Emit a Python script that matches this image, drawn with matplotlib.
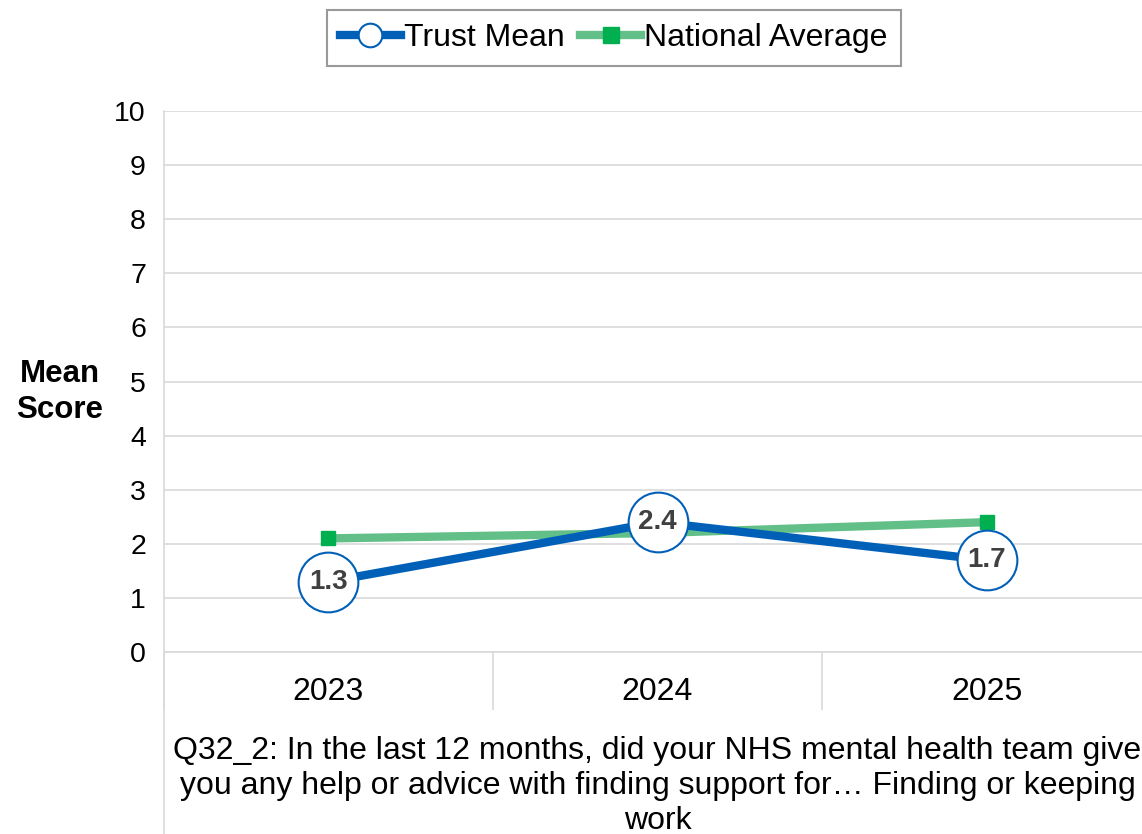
import matplotlib.pyplot as plt
from matplotlib.lines import Line2D

plt.rcParams['font.family'] = ['Liberation Sans', 'DejaVu Sans']

years = ['2023', '2024', '2025']
trust_mean = [1.3, 2.4, 1.7]
national_avg = [2.1, 2.2, 2.4]
question = ('Q32_2: In the last 12 months, did your NHS mental health team give\n'
            'you any help or advice with finding support for\u2026 Finding or keeping\n'
            'work')

blue = '#0060B8'
green = '#62BF87'
grid_c = '#D9D9D9'

fig = plt.figure(figsize=(11.42, 8.34), dpi=100)
ax = fig.add_axes([0.1436, 0.2182, 0.8643, 0.6487])

x = list(range(len(years)))
ax.plot(x, national_avg, color=green, lw=6, marker='s', ms=10,
        mfc='#00B050', mec='#00B050', zorder=3)
ax.plot(x, trust_mean, color=blue, lw=6, marker='o', ms=43,
        mfc='white', mec=blue, mew=1.5, zorder=4)
for xi, v in zip(x, trust_mean):
    ax.text(xi, v, f'{v:.1f}', ha='center', va='center', fontsize=20,
            fontweight='bold', color='#404040', zorder=5)

ax.set_xlim(-0.5, 2.5)
ax.set_ylim(0, 10)
ax.set_yticks(range(0, 11))
ax.set_xticks(x)
ax.set_xticklabels(years, fontsize=23)
ax.tick_params(axis='y', labelsize=20.5, length=0, pad=13)
ax.tick_params(axis='x', which='major', length=0, pad=18)
ax.set_xticks([-0.5, 0.5, 1.5, 2.5], minor=True)
ax.tick_params(axis='x', which='minor', length=42, color=grid_c, width=1.2)
ax.grid(axis='y', color=grid_c, lw=1.2)
ax.set_axisbelow(True)
for s in ['top', 'right']:
    ax.spines[s].set_visible(False)
for s in ['left', 'bottom']:
    ax.spines[s].set_color(grid_c)
    ax.spines[s].set_linewidth(1.2)
ax.plot([0, 0], [0, -0.34], transform=ax.transAxes, color=grid_c, lw=1.2,
        clip_on=False)

ax.set_xlabel(question, fontsize=23, linespacing=1.21, labelpad=15)
fig.text(0.0525, 0.530, 'Mean\nScore', ha='center', va='center', fontsize=22.5,
         fontweight='bold', linespacing=1.3)

handles = [Line2D([], [], color=blue, lw=6, marker='o', ms=17, mfc='white',
                  mec=blue, mew=1.5),
           Line2D([], [], color=green, lw=6, marker='s', ms=11,
                  mfc='#00B050', mec='#00B050')]
leg = fig.legend(handles, ['Trust Mean', 'National Average'], loc='upper center',
                 bbox_to_anchor=(0.5375, 1.007), ncol=2, fontsize=23, frameon=True,
                 fancybox=False, edgecolor='#808080', handlelength=1.9,
                 handletextpad=0.1, columnspacing=0.5, borderpad=0.4)
leg.get_frame().set_linewidth(1.5)

fig.savefig('out.png', dpi=100)
